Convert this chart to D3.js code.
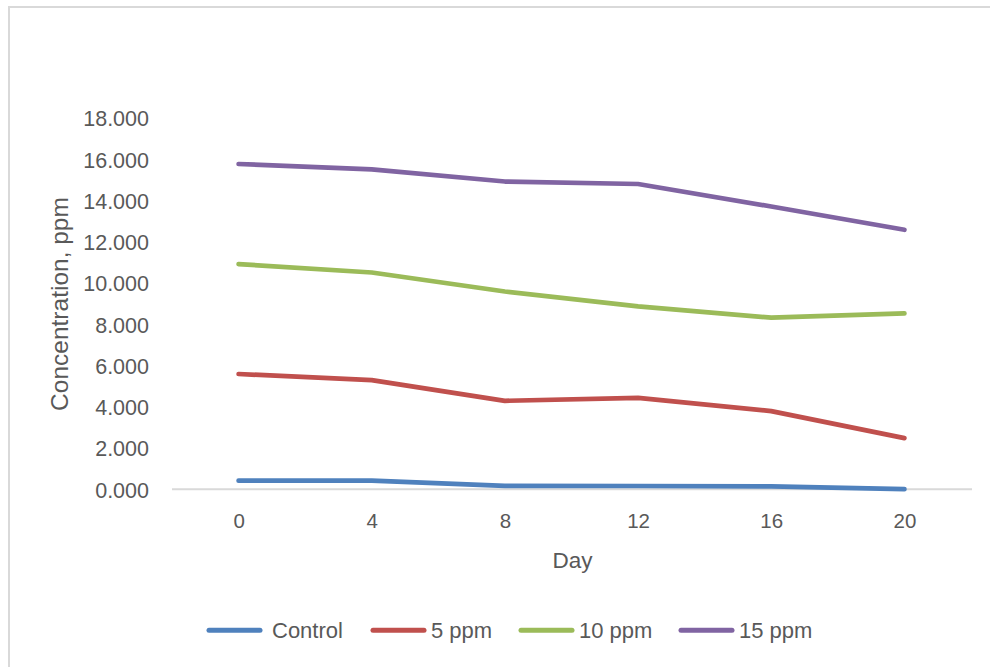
<!DOCTYPE html>
<html>
<head>
<meta charset="utf-8">
<script src="https://cdn.jsdelivr.net/npm/d3@7"></script>
<style>
  html, body { margin: 0; padding: 0; background: #fff; }
  svg { display: block; }
  text { font-family: "Liberation Sans", Arial, sans-serif; fill: #595959; }
</style>
</head>
<body>
<svg id="chart" width="990" height="667"></svg>
<script>
// Sampling days (categories on the x axis)
const days = ["0", "4", "8", "12", "16", "20"];

// Measured concentration (ppm) per treatment
const control = [0.42, 0.42, 0.17, 0.16, 0.14, 0.01];
const ppm5    = [5.59, 5.29, 4.29, 4.43, 3.79, 2.48];
const ppm10   = [10.92, 10.51, 9.59, 8.87, 8.32, 8.53];
const ppm15   = [15.77, 15.51, 14.92, 14.80, 13.71, 12.58];

const seriesNames = ["Control", "5 ppm", "10 ppm", "15 ppm"];
const seriesColors = ["#4f81bd", "#c0504d", "#9bbb59", "#8064a2"];
const yTicks = [0, 2, 4, 6, 8, 10, 12, 14, 16, 18];

const series = [control, ppm5, ppm10, ppm15].map((values, i) => ({
  name: seriesNames[i], color: seriesColors[i], values
}));

const svg = d3.select("#chart");

// Chart area frame
svg.append("path")
  .attr("d", "M9,667 V7 H990")
  .attr("fill", "none")
  .attr("stroke", "#d9d9d9")
  .attr("stroke-width", 2);

const x = d3.scalePoint().domain(days).range([172, 971]).padding(0.5);
const y = d3.scaleLinear().domain([0, 18]).range([489.3, 118]);

// Y axis labels (no axis line, no gridlines)
const yAxis = d3.axisLeft(y).tickValues(yTicks)
  .tickFormat(d3.format(".3f")).tickSize(0).tickPadding(0);
const gy = svg.append("g").attr("transform", "translate(149,0)").call(yAxis);
gy.select(".domain").remove();
gy.selectAll("text")
  .style("font-family", "'Liberation Sans', Arial, sans-serif")
  .style("font-size", "21.5px")
  .attr("fill", "#595959")
  .attr("dy", "0.36em");

// X axis: baseline and category labels
const xAxis = d3.axisBottom(x).tickSize(0).tickPadding(0);
const gx = svg.append("g").attr("transform", "translate(0,489.3)").call(xAxis);
gx.select(".domain")
  .attr("d", `M172,0 H972`)
  .attr("stroke", "#d9d9d9")
  .attr("stroke-width", 2);
gx.selectAll("text")
  .style("font-family", "'Liberation Sans', Arial, sans-serif")
  .style("font-size", "20.5px")
  .attr("fill", "#595959")
  .attr("dy", null)
  .attr("y", 39);

// Axis titles
svg.append("text")
  .attr("x", 572.5).attr("y", 568)
  .attr("text-anchor", "middle")
  .style("font-size", "22.5px")
  .text("Day");

svg.append("text")
  .attr("transform", "translate(68,304) rotate(-90)")
  .attr("text-anchor", "middle")
  .style("font-size", "24.5px")
  .text("Concentration, ppm");

// Series lines
const line = d3.line()
  .x((d, i) => x(days[i]))
  .y(d => y(d));

svg.append("g").selectAll("path")
  .data(series)
  .join("path")
  .attr("d", d => line(d.values))
  .attr("fill", "none")
  .attr("stroke", d => d.color)
  .attr("stroke-width", 4.7)
  .attr("stroke-linecap", "round")
  .attr("stroke-linejoin", "round");

// Legend
const legendX = [209, 373, 521, 681];
const legend = svg.append("g").selectAll("g")
  .data(series)
  .join("g")
  .attr("transform", (d, i) => `translate(${legendX[i]},630.3)`);
legend.append("line")
  .attr("x1", 0).attr("x2", 51)
  .attr("stroke", d => d.color)
  .attr("stroke-width", 5)
  .attr("stroke-linecap", "round");
legend.append("text")
  .attr("x", (d, i) => i === 0 ? 63 : 58)
  .attr("y", 8)
  .style("font-size", "22px")
  .text(d => d.name);
</script>
</body>
</html>
